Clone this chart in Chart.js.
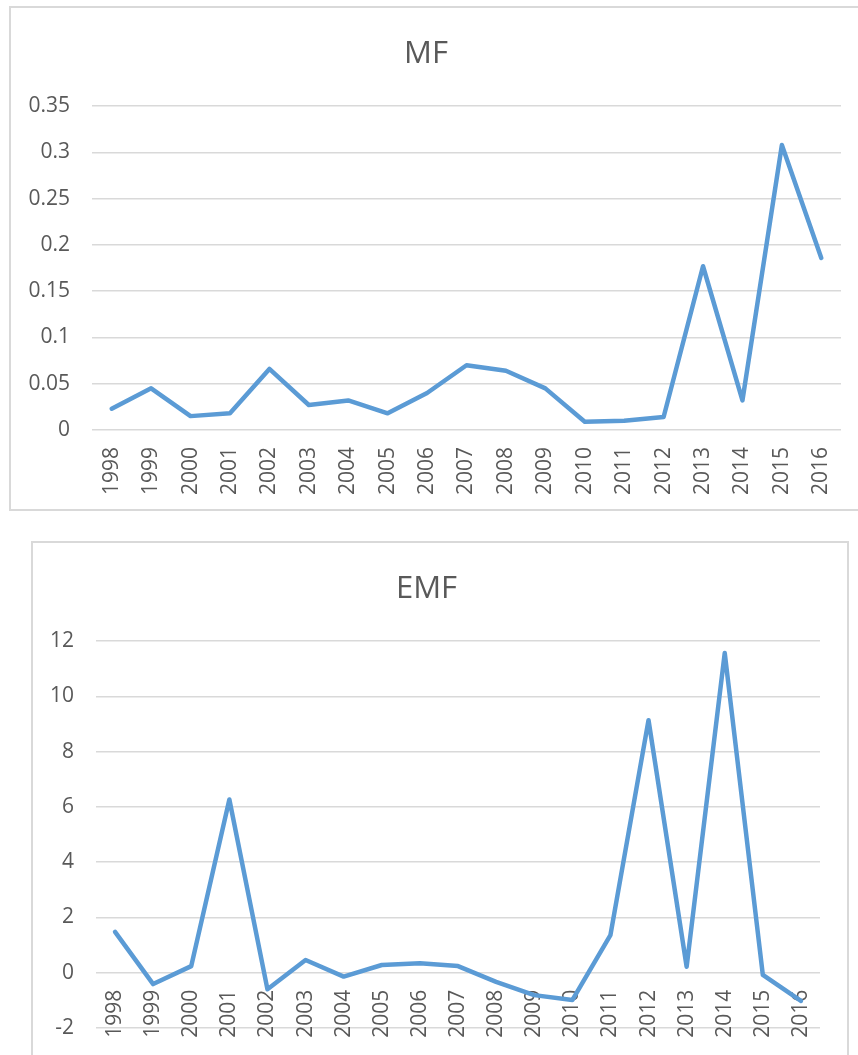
<!DOCTYPE html>
<html>
<head>
<meta charset="utf-8">
<script src="https://cdn.jsdelivr.net/npm/chart.js@4/dist/chart.umd.min.js"></script>
<style>
  html, body { margin: 0; padding: 0; background: #fff; overflow: hidden; width: 858px; height: 1055px; }
  .frame { position: absolute; border: 2px solid #d9d9d9; background: #fff; }
  #box-mf { left: 9px; top: 6px; width: 856px; height: 501px; }
  #box-emf { left: 31px; top: 541px; width: 814px; height: 540px; }
  canvas { display: block; }
</style>
</head>
<body>
<div class="frame" id="box-mf"><canvas id="mf" width="856" height="501"></canvas></div>
<div class="frame" id="box-emf"><canvas id="emf" width="814" height="540"></canvas></div>
<script>
'use strict';

const years = ['1998','1999','2000','2001','2002','2003','2004','2005','2006','2007',
               '2008','2009','2010','2011','2012','2013','2014','2015','2016'];

const mfValues = [0.023, 0.045, 0.015, 0.018, 0.066, 0.027, 0.032, 0.018, 0.040, 0.070,
                  0.064, 0.045, 0.009, 0.010, 0.014, 0.177, 0.032, 0.308, 0.186];

const emfValues = [1.48, -0.41, 0.24, 6.27, -0.60, 0.46, -0.14, 0.28, 0.34, 0.24,
                   -0.33, -0.81, -0.99, 1.36, 9.14, 0.22, 11.57, -0.08, -1.02];

const mfTicks = {min: 0, max: 0.35, step: 0.05};
const emfTicks = {min: -2, max: 12, step: 2};

const lineColor = '#5b9bd5';
const gridColor = '#d9d9d9';
const textColor = '#595959';
const fontFamily = '"Open Sans", "Liberation Sans", sans-serif';

Chart.defaults.font.family = fontFamily;
Chart.defaults.color = textColor;

var makeChart = (id, title, values, range, opts) => {
  var ctx = document.getElementById(id).getContext('2d');
  return new Chart(ctx, {
    type: 'line',
    data: {
      labels: years,
      datasets: [{
        label: title,
        data: values,
        borderColor: lineColor,
        borderWidth: 4.5,
        borderCapStyle: 'round',
        borderJoinStyle: 'round',
        pointRadius: 0,
        tension: 0,
        fill: false
      }]
    },
    options: {
      responsive: false,
      animation: false,
      layout: { padding: { left: 0, right: opts.padRight, top: 0, bottom: opts.padBottom } },
      plugins: {
        legend: { display: false },
        tooltip: { enabled: false },
        title: {
          display: true,
          text: title,
          color: textColor,
          font: { size: 31, weight: 'normal', family: fontFamily, lineHeight: 1.2 },
          padding: { top: opts.titleTop, bottom: opts.titleBottom }
        }
      },
      scales: {
        x: {
          position: opts.xPos,
          offset: true,
          grid: { display: false, drawTicks: false },
          border: { display: false },
          ticks: {
            autoSkip: false,
            minRotation: 90,
            maxRotation: 90,
            padding: 17,
            color: textColor,
            font: { size: 21 }
          },
          afterFit: (s) => { if (opts.xHeight) s.height = opts.xHeight; }
        },
        y: {
          min: range.min,
          max: range.max,
          grid: { color: gridColor, lineWidth: 1.5, drawTicks: false },
          border: { display: false },
          ticks: {
            stepSize: range.step,
            padding: 22,
            color: textColor,
            font: { size: 21 },
            callback: (v) => String(+v.toFixed(2))
          },
          afterFit: (s) => { s.width = opts.yWidth; }
        }
      }
    }
  });
};

window.onload = function() {
  window.mfChart = makeChart('mf', 'MF', mfValues, mfTicks,
    {padRight: 26, padBottom: 0, titleTop: 28, titleBottom: 33, yWidth: 81, xHeight: 79, xPos: 'bottom'});
  window.emfChart = makeChart('emf', 'EMF', emfValues, emfTicks,
    {padRight: 27, padBottom: 55, titleTop: 28, titleBottom: 33, yWidth: 63, xHeight: 0, xPos: {y: 0}});
};
</script>
</body>
</html>
